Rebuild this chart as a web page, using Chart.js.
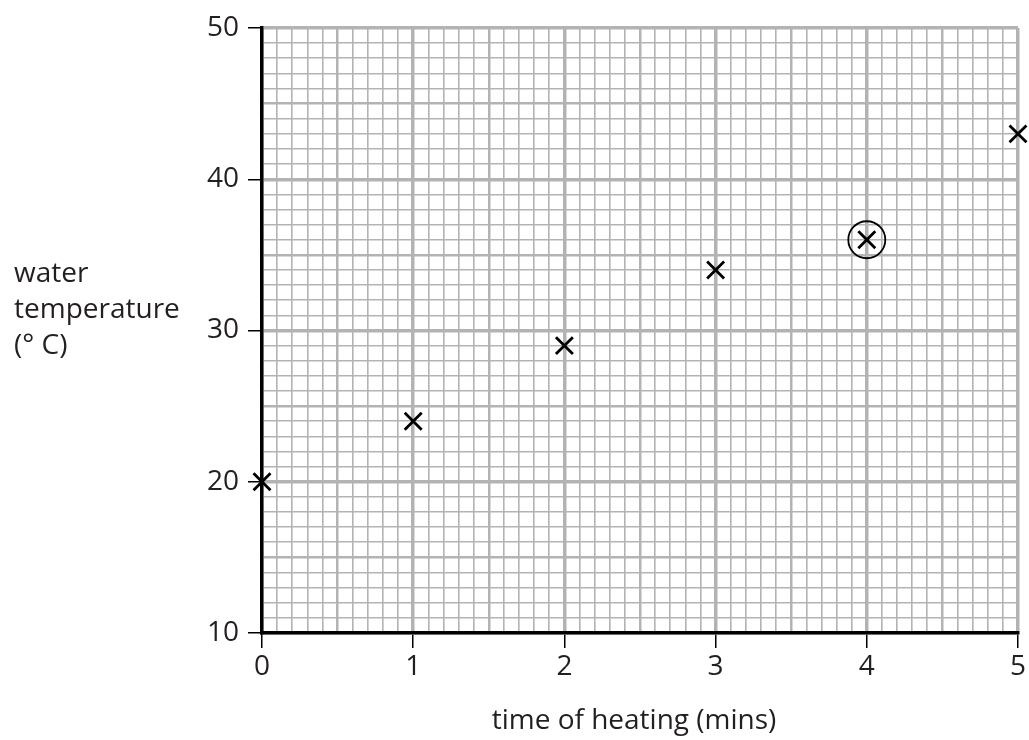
<!DOCTYPE html>
<html>
<head>
<meta charset="utf-8">
<script src="https://cdn.jsdelivr.net/npm/chart.js@4"></script>
<style>
  html, body { margin: 0; padding: 0; background: #fff; }
  #wrap { width: 1029px; height: 740px; }
</style>
</head>
<body>
<div id="wrap"><canvas id="tempChart" width="1029" height="740"></canvas></div>
<script>
// Data
const heatingTimes = [0, 1, 2, 3, 4, 5];
const waterTemps = [20, 24, 29, 34, 36, 43];
const circledTimes = [4];
const circledTemps = [36];

const xTitle = 'time of heating (mins)';
const yTitleLines = ['water', 'temperature', '(° C)'];

const fontFamily = '"Open Sans", "Noto Sans", sans-serif';
const textColour = '#231f20';
const gridGrey = '#b3b3b3';

const near = (v, step) => Math.abs(v / step - Math.round(v / step)) < 1e-6;

// grid line widths: thin minor, medium half, thick major
function xGridWidth(ctx) {
    const v = ctx.tick.value;
    if (near(v, 1)) return 3.5;
    if (near(v, 0.5)) return 2.5;
    return 1.6;
}
function yGridWidth(ctx) {
    const v = ctx.tick.value;
    if (near(v, 10)) return 3.5;
    if (near(v, 5)) return 2.5;
    return 1.6;
}

// Axis titles drawn as text on the canvas
const axisTitles = {
    id: 'axisTitles',
    afterDraw(chart) {
        const ctx = chart.ctx;
        const area = chart.chartArea;
        ctx.save();
        ctx.fillStyle = textColour;
        ctx.font = '28px ' + fontFamily;
        ctx.textBaseline = 'alphabetic';
        ctx.textAlign = 'left';
        yTitleLines.forEach((line, i) => {
            ctx.fillText(line, 14, 282 + i * 36);
        });
        ctx.textAlign = 'center';
        ctx.fillText(xTitle, (area.left + area.right) / 2 - 6, 729);
        ctx.restore();
    }
};

const ctx = document.getElementById('tempChart').getContext('2d');

new Chart(ctx, {
    type: 'scatter',
    data: {
        datasets: [{
            label: 'readings',
            data: heatingTimes.map((t, i) => ({ x: t, y: waterTemps[i] })),
            pointStyle: 'crossRot',
            pointRadius: 12,
            pointHoverRadius: 12,
            borderColor: '#000',
            borderWidth: 2.8,
            clip: false
        }, {
            label: 'circled',
            data: circledTimes.map((t, i) => ({ x: t, y: circledTemps[i] })),
            pointStyle: 'circle',
            pointRadius: 18.5,
            pointHoverRadius: 18.5,
            borderColor: '#000',
            backgroundColor: 'transparent',
            borderWidth: 1.8,
            clip: false
        }]
    },
    options: {
        responsive: false,
        animation: false,
        events: [],
        layout: {
            autoPadding: false,
            padding: { top: 28, right: 11, left: 0, bottom: 0 }
        },
        plugins: {
            legend: { display: false },
            tooltip: { enabled: false }
        },
        scales: {
            x: {
                type: 'linear',
                min: 0,
                max: 5,
                afterFit(scale) { scale.height = 107; },
                ticks: {
                    stepSize: 0.1,
                    autoSkip: false,
                    maxRotation: 0,
                    padding: 2,
                    color: textColour,
                    font: { family: fontFamily, size: 28 },
                    callback: v => near(v, 1) ? String(Math.round(v)) : ''
                },
                grid: {
                    color: gridGrey,
                    lineWidth: xGridWidth,
                    drawTicks: true,
                    tickLength: 15,
                    tickWidth: 1.5,
                    tickColor: c => near(c.tick.value, 1) ? '#000' : 'rgba(0,0,0,0)'
                },
                border: { display: true, color: '#000', width: 3.5, z: 1 }
            },
            y: {
                type: 'linear',
                min: 10,
                max: 50,
                afterFit(scale) { scale.width = 262; },
                ticks: {
                    stepSize: 1,
                    autoSkip: false,
                    padding: 9,
                    color: textColour,
                    font: { family: fontFamily, size: 28 },
                    callback: v => near(v, 10) ? String(Math.round(v)) : ''
                },
                grid: {
                    color: gridGrey,
                    lineWidth: yGridWidth,
                    drawTicks: true,
                    tickLength: 14,
                    tickWidth: 1.5,
                    tickColor: c => near(c.tick.value, 10) ? '#000' : 'rgba(0,0,0,0)'
                },
                border: { display: true, color: '#000', width: 3.5, z: 1 }
            }
        }
    },
    plugins: [axisTitles]
});
</script>
</body>
</html>
